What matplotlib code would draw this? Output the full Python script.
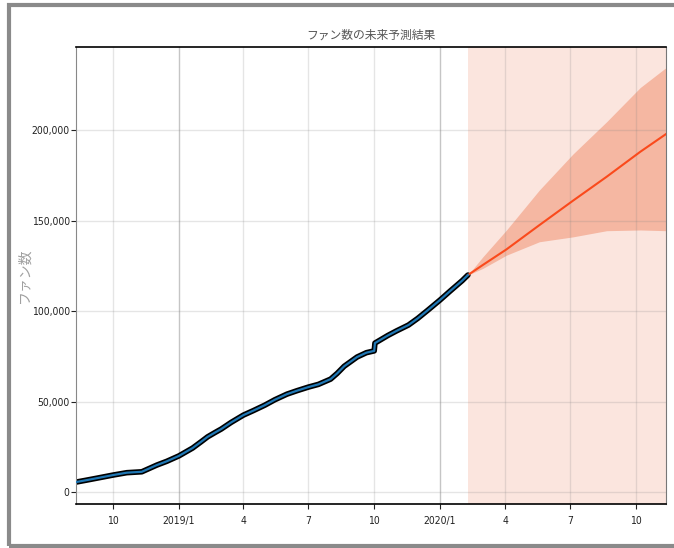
import matplotlib
matplotlib.use("Agg")
import matplotlib.pyplot as plt
import matplotlib.dates as mdates
import matplotlib.ticker as mticker
from matplotlib import font_manager
from matplotlib.patches import Rectangle
import pandas as pd

# fonts: a narrow latin face for the ticks if one is installed, CJK for Japanese text
tick_font = None
for f in font_manager.fontManager.ttflist:
    fn = f.fname.lower()
    if ("narrow" in fn or "condensed" in fn) and "bold" not in fn and "italic" not in fn \
            and "light" not in fn and "oblique" not in fn and "extra" not in fn and "semi" not in fn:
        tick_font = font_manager.FontProperties(fname=f.fname)
        break
if tick_font is None:
    tick_font = font_manager.FontProperties(family="DejaVu Sans")
jp_family = ["Noto Sans CJK JP", "DejaVu Sans"]

# observed fans (history)
hist_dates = [
    "2018-08-10", "2018-08-25", "2018-09-10", "2018-10-01", "2018-10-20",
    "2018-11-10", "2018-12-01", "2018-12-15", "2019-01-01", "2019-01-20",
    "2019-02-01", "2019-02-10", "2019-02-20", "2019-03-01", "2019-03-15",
    "2019-04-01", "2019-04-15", "2019-05-01", "2019-05-15", "2019-06-01",
    "2019-06-15", "2019-07-01", "2019-07-15", "2019-08-01", "2019-08-10",
    "2019-08-20", "2019-09-07", "2019-09-20", "2019-10-01", "2019-10-02",
    "2019-10-20", "2019-11-01", "2019-11-18", "2019-12-01", "2019-12-15",
    "2020-01-01", "2020-01-15", "2020-02-01", "2020-02-09",
]
hist_fans = [
    5500, 6600, 7800, 9400, 10700,
    11200, 14900, 17000, 20000, 24300,
    27800, 30500, 32800, 34800, 38500,
    42500, 45000, 48000, 51000, 54100,
    56000, 58000, 59500, 62400, 65500,
    69500, 74600, 77000, 78000, 82300,
    86500, 89000, 92300, 96000, 100500,
    106100, 111000, 116800, 119900,
]

# forecast
fc_dates = ["2020-02-09", "2020-03-01", "2020-04-03", "2020-05-19",
            "2020-07-05", "2020-08-21", "2020-10-07", "2020-11-12"]
fc_yhat = [119900, 125500, 134100, 147500, 161000, 174200, 188000, 197800]
fc_upper = [119900, 130000, 144800, 166900, 186800, 204600, 223500, 234500]
fc_lower = [119900, 123600, 130900, 138300, 141000, 144400, 144800, 144400]

hist_dates = pd.to_datetime(hist_dates)
fc_dates = pd.to_datetime(fc_dates)

fig = plt.figure(figsize=(6.74, 5.48), dpi=100)
ax = fig.add_axes([76 / 674, 44 / 548, 590 / 674, 457 / 548])

ax.axvspan(fc_dates[0], fc_dates[-1], color="#fbe5de", lw=0, zorder=0)
ax.fill_between(fc_dates, fc_lower, fc_upper, color="#f5b7a2", lw=0, zorder=1)
ax.plot(fc_dates, fc_yhat, color="#fa4a1c", lw=1.5, zorder=3)

ax.plot(hist_dates, hist_fans, color="black", lw=4.0, solid_capstyle="round", zorder=2)
ax.plot(hist_dates, hist_fans, color="#1f77b4", lw=1.6, zorder=3)

ax.set_xlim(pd.Timestamp("2018-08-10"), pd.Timestamp("2020-11-12"))
ax.set_ylim(-6600, 245900)

ax.xaxis.set_major_locator(mdates.YearLocator())
ax.xaxis.set_major_formatter(mdates.DateFormatter("%Y/%-m"))
ax.xaxis.set_minor_locator(mdates.MonthLocator(bymonth=[4, 7, 10]))
ax.xaxis.set_minor_formatter(mdates.DateFormatter("%-m"))
ax.yaxis.set_major_locator(mticker.MultipleLocator(50000))
ax.yaxis.set_major_formatter(mticker.StrMethodFormatter("{x:,.0f}"))

ax.grid(True, which="major", axis="y", color="gray", lw=1, alpha=0.2)
ax.grid(True, which="major", axis="x", color="gray", lw=1, alpha=0.45)
ax.grid(True, which="minor", axis="x", color="gray", lw=1, alpha=0.2)

for lbl in ax.get_xticklabels(which="both") + ax.get_yticklabels():
    lbl.set_fontproperties(tick_font)
    lbl.set_fontsize(7.5)
    lbl.set_color("#222222")
ax.tick_params(which="both", length=3.5, width=0.8, colors="#222222")
ax.tick_params(axis="x", which="both", pad=5)
ax.tick_params(axis="y", pad=1)

ax.spines["left"].set_color("#888888")
ax.spines["right"].set_color("#777777")
ax.spines["top"].set_color("black")
ax.spines["bottom"].set_color("black")
ax.spines["top"].set_linewidth(1.2)
ax.spines["bottom"].set_linewidth(1.2)

ax.set_title("ファン数の未来予測結果", family=jp_family, fontsize=8.5, color="#555555")
ax.set_ylabel("ファン数", family=jp_family, fontsize=10, color="#a0a0a0")
ax.yaxis.set_label_coords(-0.075, 0.5)

# screenshot frame
fig.patches.append(Rectangle((9 / 674, 2 / 548), 1.0, 541 / 548,
                             transform=fig.transFigure, fill=False,
                             edgecolor="#8a8a8a", lw=3, clip_on=False))

fig.savefig("out.png", dpi=100)
